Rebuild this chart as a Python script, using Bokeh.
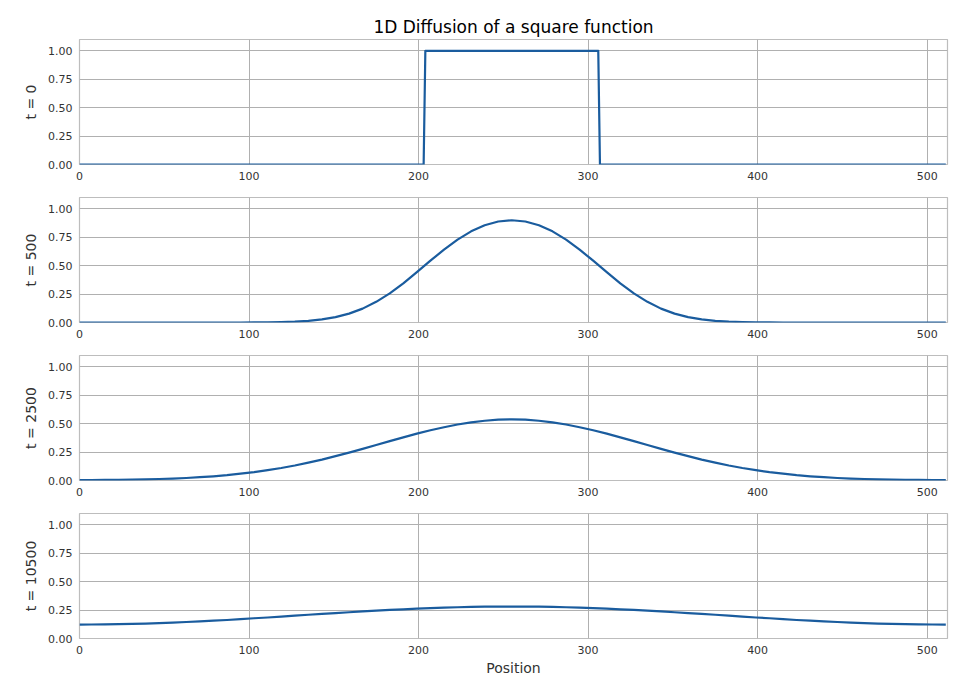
from bokeh.plotting import figure
from bokeh.layouts import column
from bokeh.models import Range1d, FixedTicker
from bokeh.embed import file_html
from bokeh.resources import INLINE

# ---- data ----
title_text = "1D Diffusion of a square function"
x_label = "Position"
panel_labels = ["t = 0", "t = 500", "t = 2500", "t = 10500"]
x_ticks = [0, 100, 200, 300, 400, 500]
y_ticks = [0, 0.25, 0.5, 0.75, 1.0]
y_tick_labels = ["0.00", "0.25", "0.50", "0.75", "1.00"]

# sampled positions for the diffused curves
positions = [0] + list(range(7, 512, 8))

# t = 0 : square function
t0_positions = [0, 203, 204, 306, 307, 511]
t0_values = [0.0, 0.0, 1.0, 1.0, 0.0, 0.0]

t500_values = [
    0.000,
    0.000, 0.000, 0.000, 0.000, 0.000, 0.000, 0.000, 0.000, 0.000, 0.000, 0.000, 0.000,
    0.001, 0.002, 0.004, 0.007, 0.014, 0.027, 0.047, 0.078, 0.122, 0.182,
    0.256, 0.345, 0.443, 0.544, 0.641, 0.729, 0.802, 0.856, 0.889,
    0.900,
    0.889, 0.856, 0.802, 0.729, 0.641, 0.544, 0.443, 0.345, 0.256,
    0.182, 0.122, 0.078, 0.047, 0.027, 0.014, 0.007, 0.004, 0.002, 0.001,
    0.000, 0.000, 0.000, 0.000, 0.000, 0.000, 0.000, 0.000, 0.000, 0.000, 0.000, 0.000, 0.000,
]

t2500_values = [
    0.003,
    0.004, 0.005, 0.006, 0.008, 0.010, 0.013, 0.017, 0.022, 0.029, 0.037, 0.047,
    0.060, 0.074, 0.091, 0.110, 0.132, 0.157, 0.184, 0.214, 0.245, 0.278,
    0.312, 0.346, 0.380, 0.412, 0.442, 0.469, 0.493, 0.512, 0.526, 0.535,
    0.538,
    0.535, 0.526, 0.512, 0.493, 0.469, 0.442, 0.412, 0.380, 0.346, 0.312,
    0.278, 0.245, 0.214, 0.184, 0.157, 0.132, 0.110, 0.091, 0.074, 0.060,
    0.047, 0.037, 0.029, 0.022, 0.017, 0.013, 0.010, 0.008, 0.006, 0.005, 0.004, 0.003,
]

t10500_values = [
    0.122,
    0.123, 0.124, 0.126, 0.128, 0.131, 0.135, 0.140, 0.145, 0.151, 0.157, 0.163,
    0.170, 0.178, 0.185, 0.193, 0.201, 0.209, 0.216, 0.224, 0.231, 0.238,
    0.245, 0.252, 0.257, 0.263, 0.268, 0.272, 0.275, 0.278, 0.280, 0.281,
    0.281,
    0.281, 0.280, 0.278, 0.275, 0.272, 0.268, 0.263, 0.257, 0.252, 0.245,
    0.238, 0.231, 0.224, 0.216, 0.209, 0.201, 0.193, 0.185, 0.178, 0.170,
    0.163, 0.157, 0.151, 0.145, 0.140, 0.135, 0.131, 0.128, 0.126, 0.124, 0.123, 0.122,
]

series = [
    (t0_positions, t0_values),
    (positions, t500_values),
    (positions, t2500_values),
    (positions, t10500_values),
]

LINE_COLOR = "#1a5c9e"
FONT = "DejaVu Sans"

figs = []
n = len(series)
for i, ((xs, ys), lab) in enumerate(zip(series, panel_labels)):
    first = i == 0
    last = i == n - 1
    top = 39 if first else 8
    bottom = 43 if last else 25
    frame_h = 125
    p = figure(
        width=951,
        height=top + frame_h + bottom,
        x_range=Range1d(0, 512),
        y_range=Range1d(0, 1.1),
        output_backend="svg",
        toolbar_location=None,
        min_border_left=79,
        min_border_right=4,
        min_border_top=top,
        min_border_bottom=bottom,
        background_fill_color="white",
        border_fill_color="white",
    )
    p.line(xs, ys, line_color=LINE_COLOR, line_width=2.2, line_join="round")

    p.outline_line_color = "#bdbdbd"
    p.outline_line_width = 1.2

    p.xaxis.ticker = FixedTicker(ticks=x_ticks)
    p.yaxis.ticker = FixedTicker(ticks=y_ticks)
    p.yaxis.major_label_overrides = {t: s for t, s in zip(y_ticks, y_tick_labels)}
    for ax in (p.xaxis, p.yaxis):
        ax.axis_line_color = None
        ax.major_tick_line_color = None
        ax.minor_tick_line_color = None
        ax.major_tick_out = 0
        ax.major_tick_in = 0
        ax.minor_tick_out = 0
        ax.minor_tick_in = 0
        ax.major_label_text_font = FONT
        ax.major_label_text_font_size = "11px"
        ax.major_label_text_color = "#333333"
        ax.axis_label_text_font = FONT
        ax.axis_label_text_font_size = "14px"
        ax.axis_label_text_font_style = "normal"
        ax.axis_label_text_color = "#333333"
    p.xaxis.major_label_standoff = 7
    p.yaxis.major_label_standoff = 7
    p.yaxis.axis_label = lab
    p.yaxis.axis_label_standoff = 6
    if last:
        p.xaxis.axis_label = x_label
        p.xaxis.axis_label_standoff = 3

    p.xgrid.grid_line_color = "#b0b0b0"
    p.ygrid.grid_line_color = "#b0b0b0"
    p.xgrid.grid_line_width = 1
    p.ygrid.grid_line_width = 1

    if first:
        p.title.text = title_text
        p.title.align = "center"
        p.title.text_font = FONT
        p.title.text_font_size = "17px"
        p.title.text_font_style = "normal"
        p.title.text_color = "#000000"
        p.title.standoff = 6
    figs.append(p)

layout = column(*figs, spacing=0)
open("out.html", "w").write(file_html(layout, INLINE))
